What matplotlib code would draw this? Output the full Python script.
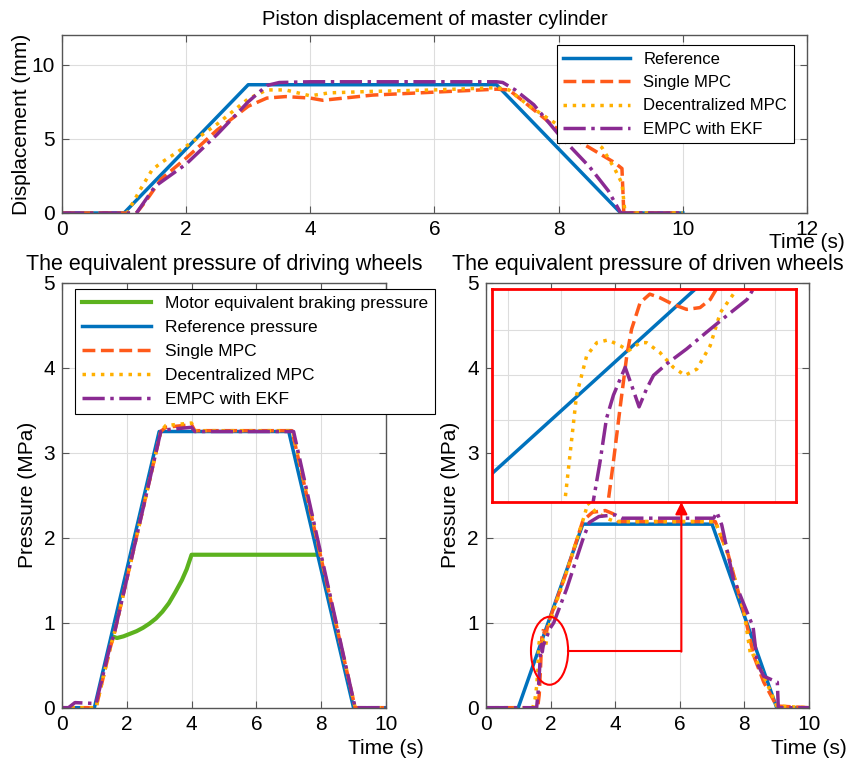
import numpy as np
import matplotlib.pyplot as plt
from matplotlib.patches import Ellipse

plt.rcParams['font.family'] = ['Liberation Sans', 'DejaVu Sans']

# ---- top panel: piston displacement of master cylinder (mm)
t_ref_top = [0, 1, 3, 7, 9, 10]
d_ref_top = [0, 0, 8.65, 8.65, 0, 0]
t_smpc_top = [0, 1.2, 1.35, 1.6, 2.0, 2.5, 3.0, 3.3, 3.6, 4.0, 4.2, 5, 6, 7, 7.2, 7.5, 8.0, 8.5, 8.9, 9.02, 9.05, 10]
d_smpc_top = [0, 0, 0.8, 2.3, 3.7, 5.6, 7.2, 7.75, 7.85, 7.75, 7.6, 7.95, 8.15, 8.35, 8.3, 7.3, 5.6, 4.4, 3.4, 3.0, 0, 0]
t_dmpc_top = [0, 1.05, 1.25, 1.45, 1.6, 2.0, 2.5, 3.0, 3.3, 3.6, 4.0, 4.3, 5, 6, 7, 7.2, 7.5, 8.0, 8.5, 8.7, 8.9, 9.02, 9.07, 10]
d_dmpc_top = [0, 0, 1.5, 2.9, 3.4, 4.5, 6.0, 7.7, 8.3, 8.3, 7.9, 8.1, 8.2, 8.3, 8.45, 8.3, 7.3, 5.9, 5.1, 4.4, 3.0, 2.0, 0, 0]
t_empc_top = [0, 1.2, 1.5, 2.0, 2.5, 3.0, 3.3, 3.5, 4.0, 7.0, 7.1, 7.3, 7.6, 8.0, 8.5, 8.8, 9.0, 10]
d_empc_top = [0, 0, 1.8, 3.3, 5.3, 7.5, 8.6, 8.8, 8.85, 8.85, 8.8, 8.3, 7.3, 5.3, 3.1, 1.5, 0, 0]

# ---- bottom left: driving wheels pressure (MPa)
t_motor = [1.55, 1.7, 1.9, 2.1, 2.3, 2.5, 2.7, 2.9, 3.1, 3.3, 3.5, 3.7, 3.85, 4.0, 7.88]
p_motor = [0.84, 0.82, 0.84, 0.87, 0.90, 0.94, 0.99, 1.05, 1.13, 1.23, 1.36, 1.50, 1.63, 1.80, 1.80]
t_ref_dw = [0, 1, 3, 7, 9, 10]
p_ref_dw = [0, 0, 3.25, 3.25, 0, 0]
t_smpc_dw = [0, 1.05, 1.5, 1.6, 3.05, 3.2, 4.0, 4.1, 7.1, 9.05, 10]
p_smpc_dw = [0, 0, 0.72, 0.85, 3.25, 3.30, 3.33, 3.26, 3.26, 0, 0]
t_dmpc_dw = [0, 1.05, 1.5, 1.6, 3.05, 3.2, 4.0, 4.1, 7.12, 9.05, 10]
p_dmpc_dw = [0, 0, 0.72, 0.85, 3.25, 3.32, 3.35, 3.26, 3.26, 0, 0]
t_empc_dw = [0, 0.2, 0.4, 1.0, 1.05, 1.5, 1.6, 3.05, 3.2, 4.0, 4.1, 7.15, 9.05, 10]
p_empc_dw = [0, 0, 0.06, 0.05, 0.05, 0.75, 0.85, 3.25, 3.27, 3.30, 3.25, 3.25, 0, 0]

# ---- bottom right: driven wheels pressure (MPa)
t_ref_dn = [0, 1, 3, 7, 9, 10]
p_ref_dn = [0, 0, 2.16, 2.16, 0, 0]
t_smpc_dn = [0, 1.6, 1.65, 1.688, 1.698, 1.711, 1.723, 1.732, 1.748, 1.766, 1.785, 1.810, 1.835,
             1.860, 1.879, 1.891, 1.93, 2.0, 2.5, 3.0, 3.3, 3.7, 3.95, 4.1, 7.1, 7.5, 8.0, 8.3, 8.6, 9.0, 10]
p_smpc_dn = [0, 0, 0.15, 0.445, 0.535, 0.660, 0.771, 0.830, 0.889, 0.908, 0.900, 0.885, 0.874,
             0.878, 0.896, 0.920, 0.99, 1.07, 1.6, 2.2, 2.3, 2.32, 2.28, 2.19, 2.19, 1.8, 1.1, 0.6, 0.3, 0.02, 0]
t_dmpc_dn = [0, 1.45, 1.52, 1.57, 1.6, 1.607, 1.629, 1.648, 1.667, 1.688, 1.711, 1.726, 1.748, 1.760,
             1.785, 1.810, 1.832, 1.854, 1.879, 1.898, 1.929, 1.97, 2.1, 2.5, 3.0, 3.16, 3.4, 3.8, 4.0,
             7.1, 7.5, 8.0, 8.2, 8.3, 8.5, 8.8, 9.0, 10]
p_dmpc_dn = [0, 0, 0.1, 0.25, 0.4, 0.445, 0.683, 0.771, 0.800, 0.806, 0.793, 0.782, 0.800, 0.800,
             0.778, 0.745, 0.727, 0.741, 0.793, 0.867, 0.919, 0.98, 1.15, 1.6, 2.2, 2.41, 2.3, 2.22, 2.19,
             2.19, 1.8, 1.1, 0.6, 0.62, 0.45, 0.2, 0.02, 0]
t_empc_dn = [0, 1.57, 1.62, 1.660, 1.673, 1.685, 1.698, 1.711, 1.720, 1.732, 1.746, 1.760, 1.773, 1.798,
             1.835, 1.872, 1.910, 1.948, 1.960, 2.1, 2.5, 3.0, 3.2, 3.5, 4.0, 4.2, 7.05, 7.15, 7.3,
             7.65, 8.27, 8.4, 8.6, 8.9, 9.02, 9.05, 10]
p_empc_dn = [0, 0, 0.2, 0.445, 0.535, 0.631, 0.683, 0.720, 0.745, 0.705, 0.657, 0.697, 0.727, 0.753,
             0.786, 0.823, 0.860, 0.896, 0.920, 1.0, 1.4, 1.98, 2.18, 2.25, 2.27, 2.23, 2.23, 2.3, 2.15,
             1.53, 0.95, 0.52, 0.37, 0.32, 0.3, 0, 0]

C_REF = '#0072BD'
C_SMPC = '#FF5A1A'
C_DMPC = '#FFB000'
C_EMPC = '#8A2A92'
C_MOTOR = '#5CB21E'
LW = 2.5
FS = 15


def style_axes(ax, xmax, ymax, yticks):
    ax.set_xlim(0, xmax)
    ax.set_ylim(0, ymax)
    ax.set_xticks(np.arange(0, xmax + 0.1, 2))
    ax.set_yticks(yticks)
    ax.grid(True, color='#dddddd', lw=0.8)
    ax.set_axisbelow(True)
    ax.tick_params(direction='in', top=True, right=True, labelsize=FS, length=5,
                   color='#555555', pad=5)
    for s in ax.spines.values():
        s.set_color('#555555')
        s.set_linewidth(1.0)


def draw_series(ax, series):
    for t, v, c, ls, lab in series:
        ax.plot(t, v, color=c, ls=ls, lw=LW, label=lab)


fig = plt.figure(figsize=(8.48, 7.67), dpi=100)

# top
ax1 = fig.add_axes([0.0731, 0.7223, 0.8785, 0.232])
draw_series(ax1, [
    (t_ref_top, d_ref_top, C_REF, '-', 'Reference'),
    (t_smpc_top, d_smpc_top, C_SMPC, '--', 'Single MPC'),
    (t_dmpc_top, d_dmpc_top, C_DMPC, ':', 'Decentralized MPC'),
    (t_empc_top, d_empc_top, C_EMPC, '-.', 'EMPC with EKF'),
])
style_axes(ax1, 12, 12, [0, 5, 10])
ax1.set_title('Piston displacement of master cylinder', fontsize=14.5, pad=7)
ax1.set_ylabel('Displacement (mm)', fontsize=FS)
ax1.yaxis.set_label_coords(-0.042, 0.5)
ax1.text(1.0, -0.168, 'Time (s)', transform=ax1.transAxes, ha='center', va='center', fontsize=FS)
leg = ax1.legend(loc='upper left', bbox_to_anchor=(0.664, 0.944), borderaxespad=0, fontsize=12,
                 handlelength=4.0, fancybox=False, framealpha=1, edgecolor='black')
leg.get_frame().set_linewidth(0.8)

# bottom left
ax2 = fig.add_axes([0.0731, 0.0773, 0.382, 0.554])
ax2.plot(t_motor, p_motor, color=C_MOTOR, lw=3, label='Motor equivalent braking pressure')
draw_series(ax2, [
    (t_ref_dw, p_ref_dw, C_REF, '-', 'Reference pressure'),
    (t_smpc_dw, p_smpc_dw, C_SMPC, '--', 'Single MPC'),
    (t_dmpc_dw, p_dmpc_dw, C_DMPC, ':', 'Decentralized MPC'),
    (t_empc_dw, p_empc_dw, C_EMPC, '-.', 'EMPC with EKF'),
])
style_axes(ax2, 10, 5, [0, 1, 2, 3, 4, 5])
ax2.set_title('The equivalent pressure of driving wheels', fontsize=15.5, pad=9)
ax2.set_ylabel('Pressure (MPa)', fontsize=FS)
ax2.yaxis.set_label_coords(-0.077, 0.5)
ax2.text(1.0, -0.095, 'Time (s)', transform=ax2.transAxes, ha='center', va='center', fontsize=FS)
leg = ax2.legend(loc='upper left', bbox_to_anchor=(0.04, 0.985), borderaxespad=0, fontsize=12.5,
                 handlelength=4.0, fancybox=False, framealpha=1, edgecolor='black')
leg.get_frame().set_linewidth(0.8)

# bottom right
ax3 = fig.add_axes([0.573, 0.0773, 0.381, 0.554])
dn_series = [
    (t_ref_dn, p_ref_dn, C_REF, '-', 'Reference pressure'),
    (t_smpc_dn, p_smpc_dn, C_SMPC, '--', 'Single MPC'),
    (t_dmpc_dn, p_dmpc_dn, C_DMPC, ':', 'Decentralized MPC'),
    (t_empc_dn, p_empc_dn, C_EMPC, '-.', 'EMPC with EKF'),
]
draw_series(ax3, dn_series)
style_axes(ax3, 10, 5, [0, 1, 2, 3, 4, 5])
ax3.set_title('The equivalent pressure of driven wheels', fontsize=15.5, pad=9)
ax3.set_ylabel('Pressure (MPa)', fontsize=FS)
ax3.yaxis.set_label_coords(-0.080, 0.5)
ax3.text(1.0, -0.095, 'Time (s)', transform=ax3.transAxes, ha='center', va='center', fontsize=FS)

# zoom marker + connector
ax3.add_patch(Ellipse((1.97, 0.67), 1.15, 0.8, fill=False, edgecolor='red', lw=1.5, zorder=5))
ax3.plot([2.54, 6.05], [0.67, 0.67], color='red', lw=1.5, zorder=5)
ax3.annotate('', xy=(6.05, 2.42), xytext=(6.05, 0.66),
             arrowprops=dict(arrowstyle='-|>', color='red', lw=1.5, mutation_scale=18,
                             shrinkA=0, shrinkB=0), zorder=5)

# inset
axin = ax3.inset_axes([0.175, 2.42, 9.43, 2.51], transform=ax3.transData)
draw_series(axin, dn_series)
axin.set_xlim(1.47, 2.04)
axin.set_ylim(0.445, 0.92)
axin.set_xticks(np.arange(1.5, 2.05, 0.1))
axin.set_yticks(np.arange(0.528, 0.9, 0.1))
axin.tick_params(length=0, labelbottom=False, labelleft=False)
axin.grid(True, color='#dddddd', lw=0.8)
for s in axin.spines.values():
    s.set_color('red')
    s.set_linewidth(2)

fig.savefig('out.png', dpi=100)
